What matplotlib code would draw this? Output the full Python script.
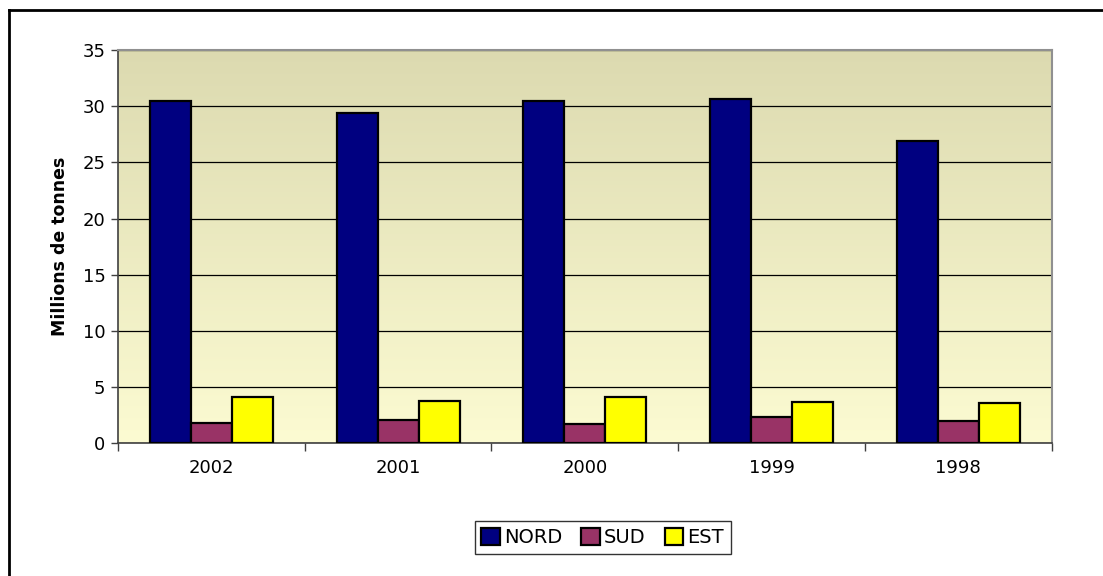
import matplotlib
matplotlib.use("Agg")
import matplotlib.pyplot as plt
import numpy as np
from matplotlib.colors import LinearSegmentedColormap
from matplotlib.lines import Line2D

plt.rcParams['font.family'] = ['DejaVu Sans']

years = ["2002", "2001", "2000", "1999", "1998"]
nord = [30.5, 29.4, 30.5, 30.6, 26.9]
sud = [1.8, 2.1, 1.7, 2.3, 2.0]
est = [4.1, 3.8, 4.1, 3.7, 3.6]
series_names = ["NORD", "SUD", "EST"]
colors = ["#000080", "#993366", "#FFFF00"]

fig = plt.figure(figsize=(11.03, 5.76), dpi=100)
ax = fig.add_axes([0.107, 0.2304, 0.8465, 0.6828])

x = np.arange(len(years))
w = 0.22
for i, (vals, name, c) in enumerate(zip([nord, sud, est], series_names, colors)):
    ax.bar(x + (i - 1) * w, vals, width=w, color=c, edgecolor="black",
           linewidth=1.6, label=name, zorder=3)

ax.set_xlim(-0.5, len(years) - 0.5)
ax.set_ylim(0, 35)

# gradient background
cmap = LinearSegmentedColormap.from_list("bg", ["#FCFBD2", "#DCDAB0"])
grad = np.linspace(0, 1, 256).reshape(-1, 1)
ax.imshow(grad, aspect="auto", cmap=cmap, origin="lower",
          extent=[-0.5, len(years) - 0.5, 0, 35], zorder=0)

ax.set_yticks(range(0, 36, 5))
ax.yaxis.grid(True, color="black", linewidth=0.9, zorder=1)
ax.set_axisbelow(True)
ax.set_xticks(x)
ax.set_xticklabels(years)
ax.set_xticks(np.arange(-0.5, len(years)), minor=True)
ax.tick_params(axis="x", which="major", length=0, pad=11, labelsize=13)
ax.tick_params(axis="x", which="minor", length=6, width=1, color="#404040", direction="out")
ax.tick_params(axis="y", length=5, width=1, color="#404040", labelsize=13, pad=4)

for s in ["top", "right"]:
    ax.spines[s].set_color("#909090")
    ax.spines[s].set_linewidth(1.5)
for s in ["left", "bottom"]:
    ax.spines[s].set_color("#404040")
    ax.spines[s].set_linewidth(1.2)

ax.set_ylabel("Millions de tonnes", fontsize=12.5, fontweight="bold", labelpad=10)

leg = ax.legend(loc="upper center", bbox_to_anchor=(0.519, -0.173), ncol=3,
                frameon=True, fancybox=False, edgecolor="black", fontsize=14,
                handlelength=0.95, handleheight=0.95, handletextpad=0.2,
                columnspacing=1.0, borderpad=0.35)
leg.get_frame().set_linewidth(1.0)

# outer frame (left & top visible)
fig.add_artist(Line2D([9/1103, 9/1103], [0, 1 - 10/576], transform=fig.transFigure,
                      color="black", linewidth=2))
fig.add_artist(Line2D([9/1103, 1], [1 - 10/576, 1 - 10/576], transform=fig.transFigure,
                      color="black", linewidth=2))

fig.savefig("out.png", dpi=100)
